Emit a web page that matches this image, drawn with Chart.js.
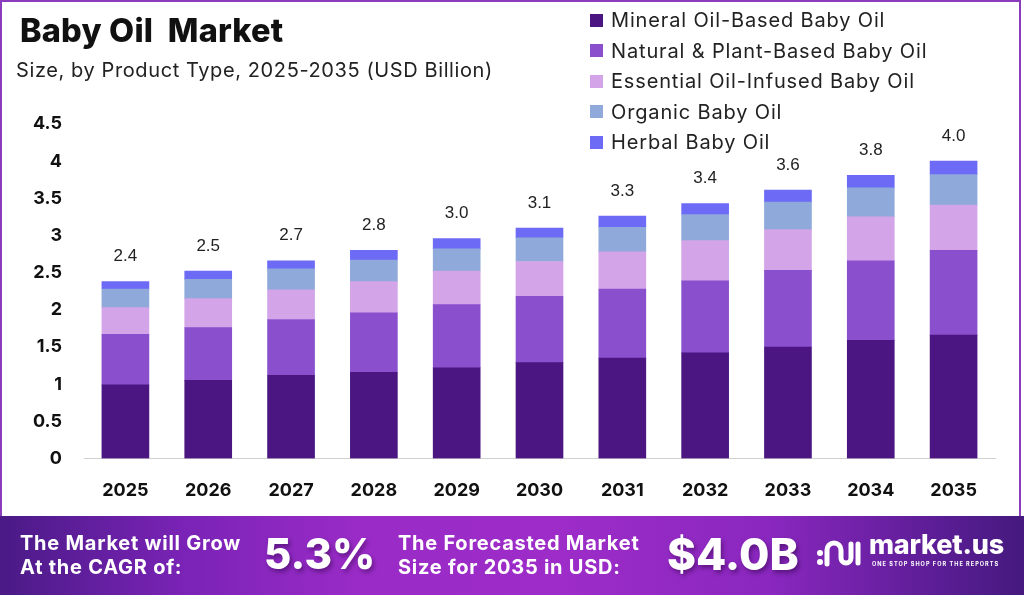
<!DOCTYPE html>
<html>
<head>
<meta charset="utf-8">
<script src="https://cdn.jsdelivr.net/npm/chart.js@4/dist/chart.umd.min.js"></script>
<style>
  html,body{margin:0;padding:0;background:#fff;}
  body{width:1024px;height:595px;position:relative;overflow:hidden;font-family:"Inter","DejaVu Sans",sans-serif;}
  #frame{position:absolute;left:0;top:0;width:1017px;height:520px;border:2px solid #8a3cbd;border-bottom:none;box-sizing:content-box;}
  #title{position:absolute;left:20px;top:11px;font-size:32.5px;font-weight:800;color:#111;letter-spacing:0.2px;white-space:pre;}
  #subtitle{position:absolute;left:16px;top:58px;font-size:20px;font-weight:400;color:#222;letter-spacing:0.6px;white-space:pre;}
  #chartWrap{position:absolute;left:0;top:0;width:1024px;height:512px;}
  #legend{position:absolute;left:590px;top:5px;}
  .li{height:30.5px;display:flex;align-items:center;font-size:20px;color:#222;white-space:nowrap;letter-spacing:0.85px;}
  .sw{width:13px;height:13px;margin-right:8px;flex:none;}
  #banner{position:absolute;left:0;top:516px;width:1024px;height:79px;
    background:linear-gradient(90deg,#4a1a86 0%,#7a23b6 18%,#9a2bc7 35%,#9d2cc8 55%,#8a27bf 75%,#5a1d94 92%,#45197e 100%);}
  .bt{position:absolute;color:#fff;font-weight:700;font-size:20px;line-height:24px;white-space:nowrap;letter-spacing:0.75px;}
  .big{position:absolute;color:#fff;font-weight:800;white-space:nowrap;text-shadow:2px 3px 4px rgba(40,0,60,0.45);}
</style>
</head>
<body>
<div id="chartWrap"><canvas id="c" width="1024" height="512"></canvas></div>
<div id="frame"></div>
<div id="title">Baby Oil  Market</div>
<div id="subtitle">Size, by Product Type, 2025-2035 (USD Billion)</div>
<div id="legend"></div>
<div id="banner">
  <div class="bt" style="left:20px;top:15px;">The Market will Grow<br>At the CAGR of:</div>
  <div class="big" style="left:264px;top:12px;font-size:42px;line-height:52px;">5.3%</div>
  <div class="bt" style="left:398px;top:15px;">The Forecasted Market<br>Size for 2035 in USD:</div>
  <div class="big" style="left:667px;top:12px;font-size:44px;line-height:52px;">$4.0B</div>
  <svg style="position:absolute;left:815px;top:20px;" width="48" height="34" viewBox="0 0 48 34">
    <circle cx="5" cy="17" r="3" fill="#fff"/>
    <circle cx="5" cy="26" r="3" fill="#fff"/>
    <path d="M12 28 V14 a7 7 0 0 1 14 0 V22 a5 5 0 0 0 10 0 V8" fill="none" stroke="#fff" stroke-width="5" stroke-linecap="round"/>
    <path d="M43 8 V27" fill="none" stroke="#fff" stroke-width="5" stroke-linecap="round"/>
  </svg>
  <div class="bt" style="left:869px;top:12px;font-size:27px;line-height:34px;font-weight:800;letter-spacing:-0.2px;">market.us</div>
  <div class="bt" style="left:872px;top:44px;font-size:5.6px;line-height:8px;letter-spacing:1px;font-weight:700;">ONE STOP SHOP FOR THE REPORTS</div>
</div>
<script>
const categories = ["2025","2026","2027","2028","2029","2030","2031","2032","2033","2034","2035"];
const seriesNames = ["Mineral Oil-Based Baby Oil","Natural & Plant-Based Baby Oil","Essential Oil-Infused Baby Oil","Organic Baby Oil","Herbal Baby Oil"];
const mineral   = [0.99,1.05,1.12,1.16,1.22,1.29,1.35,1.42,1.50,1.59,1.66];
const natural   = [0.68,0.71,0.75,0.80,0.85,0.89,0.93,0.97,1.03,1.07,1.14];
const essential = [0.36,0.39,0.40,0.42,0.45,0.47,0.50,0.54,0.55,0.59,0.61];
const organic   = [0.25,0.26,0.28,0.29,0.30,0.32,0.33,0.35,0.37,0.39,0.41];
const herbal    = [0.10,0.11,0.11,0.13,0.14,0.13,0.15,0.15,0.16,0.17,0.18];
const totalLabels = ["2.4","2.5","2.7","2.8","3.0","3.1","3.3","3.4","3.6","3.8","4.0"];
const colors = ["#4b1681","#8a4fcc","#d3a4e8","#8fa9da","#6d6af6"];

const seriesData = [mineral, natural, essential, organic, herbal];

const lg = document.getElementById('legend');
seriesNames.forEach((n,i)=>{
  const d=document.createElement('div');d.className='li';
  const s=document.createElement('span');s.className='sw';s.style.background=colors[i];
  const t=document.createElement('span');t.textContent=n;
  d.appendChild(s);d.appendChild(t);lg.appendChild(d);
});

const totalsPlugin = {
  id:'totals',
  afterDatasetsDraw(chart){
    const ctx=chart.ctx, y=chart.scales.y, x=chart.scales.x;
    ctx.save();
    ctx.font='17px "Liberation Sans", Arial, sans-serif';
    ctx.fillStyle='#222';ctx.textAlign='center';ctx.textBaseline='middle';
    categories.forEach((c,i)=>{
      let sum=0; seriesData.forEach(s=>sum+=s[i]);
      ctx.fillText(totalLabels[i], x.getPixelForValue(i), y.getPixelForValue(sum)-25);
    });
    ctx.restore();
  }
};

new Chart(document.getElementById('c'),{
  type:'bar',
  data:{
    labels:categories,
    datasets:seriesData.map((d,i)=>({label:seriesNames[i],data:d,backgroundColor:colors[i],borderWidth:0,barThickness:47}))
  },
  options:{
    responsive:false,animation:false,
    layout:{padding:{top:124,right:29,bottom:12,left:0}},
    plugins:{legend:{display:false},tooltip:{enabled:false}},
    scales:{
      x:{stacked:true,
        grid:{display:false,drawTicks:false},
        border:{display:true,color:'#d0d0d0',width:1},
        ticks:{padding:21,color:'#111',font:{family:'Inter',size:18,weight:'bold'}},
        afterFit(s){s.height=41.5;}
      },
      y:{stacked:true,min:0,max:4.5,
        grid:{display:false,drawTicks:false},
        border:{display:false},
        ticks:{stepSize:0.5,padding:22,color:'#111',font:{family:'Inter',size:18,weight:'bold'},
          callback:(v)=>String(+Number(v).toFixed(1))},
        afterFit(s){s.width=84;}
      }
    }
  },
  plugins:[totalsPlugin]
});
</script>
</body>
</html>
